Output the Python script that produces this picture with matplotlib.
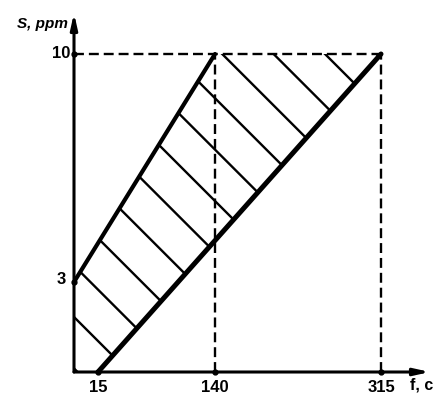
import matplotlib
matplotlib.use("Agg")
import matplotlib.pyplot as plt
import numpy as np

# chart values
x_ticks = [15, 140, 315]
y_ticks = [3, 10]
upper_x = [0, 140]      # upper boundary of the zone
upper_y = [3, 10]
lower_x = [15, 315]     # lower boundary of the zone
lower_y = [0, 10]
x_label = "f, c"
y_label = "S, ppm"

# schematic (non-uniform) axis spacing, data value -> pixel
XD = [0, 15, 140, 315, 420]
XP = [74, 98, 215, 381, 480.6]
YD = [0, 3, 10, 13]
YP = [22, 112, 340, 437.8]

def fx(v):
    return np.interp(v, XD, XP)

def fx_inv(p):
    return np.interp(p, XP, XD)

def fy(v):
    return np.interp(v, YD, YP)

def fy_inv(p):
    return np.interp(p, YP, YD)

plt.rcParams['font.family'] = ['Liberation Sans', 'DejaVu Sans']

fig = plt.figure(figsize=(4.36, 3.94), dpi=100)
ax = fig.add_axes([74/436, 22/394, (430-74)/436, (381-22)/394])
ax.set_xscale('function', functions=(fx, fx_inv))
ax.set_yscale('function', functions=(fy, fy_inv))
ax.set_xlim(0, fx_inv(430))
ax.set_ylim(0, fy_inv(381))
ax.set_axis_off()

# band between the two boundaries
band_x = [0] + upper_x + [lower_x[1], lower_x[0]]
band_y = [0] + upper_y + [lower_y[1], lower_y[0]]
band = ax.fill(band_x, band_y, facecolor='none', edgecolor='none')[0]

# hatching: 45 degree lines in inches, clipped to the band
step = 0.514
c0 = 2.024
for k in range(-3, 14):
    c = c0 + k*step
    ln, = ax.plot([c - 6, c + 6], [6, -6], color='black', lw=1.7,
                  transform=fig.dpi_scale_trans, solid_capstyle='butt')
    ln.set_clip_path(band)

# dashed guides
dash = (0, (4.2, 2.1))
ax.plot([0, x_ticks[2]], [y_ticks[1], y_ticks[1]], color='black', lw=1.7, ls=dash)
ax.plot([x_ticks[1], x_ticks[1]], [0, y_ticks[1]], color='black', lw=1.7, ls=dash)
ax.plot([x_ticks[2], x_ticks[2]], [0, y_ticks[1]], color='black', lw=1.7, ls=dash)

# boundaries
ax.plot(upper_x, upper_y, color='black', lw=3.0, solid_capstyle='round')
ax.plot(lower_x, lower_y, color='black', lw=3.6, solid_capstyle='round')

# axes with arrows
arrow = dict(arrowstyle='-|>,head_length=0.9,head_width=0.2', lw=2.2,
             color='black', mutation_scale=10, shrinkA=0, shrinkB=0)
ax.annotate('', xy=(1, 0), xytext=(0, 0), xycoords='axes fraction',
            arrowprops=arrow, annotation_clip=False)
ax.annotate('', xy=(0, 1), xytext=(0, 0), xycoords='axes fraction',
            arrowprops=arrow, annotation_clip=False)

# tick dots
ax.plot(x_ticks, [0]*len(x_ticks), 'ko', ms=3.5, clip_on=False)
ax.plot([0]*len(y_ticks), y_ticks, 'ko', ms=3.5, clip_on=False)

fs = 12
for v in x_ticks:
    ax.annotate(str(v), xy=(v, 0), xytext=(0, -16), textcoords='offset pixels',
                ha='center', va='center', fontsize=fs, fontweight='bold')
ax.annotate("10", xy=(0, 10), xytext=(-4, 0), textcoords='offset pixels',
            ha='right', va='center', fontsize=fs, fontweight='bold')
ax.annotate("3", xy=(0, 3), xytext=(-8, 2), textcoords='offset pixels',
            ha='right', va='center', fontsize=fs, fontweight='bold')

ax.annotate(x_label, xy=(1, 0), xycoords='axes fraction', xytext=(-20, -13),
            textcoords='offset pixels', ha='left', va='center',
            fontsize=fs - 0.5, fontweight='bold', annotation_clip=False)
ax.annotate(y_label, xy=(0, 1), xycoords='axes fraction', xytext=(-6, -11),
            textcoords='offset pixels', ha='right', va='center',
            fontsize=fs - 1, fontweight='bold', fontstyle='italic',
            annotation_clip=False)

fig.savefig("out.png", dpi=100)
